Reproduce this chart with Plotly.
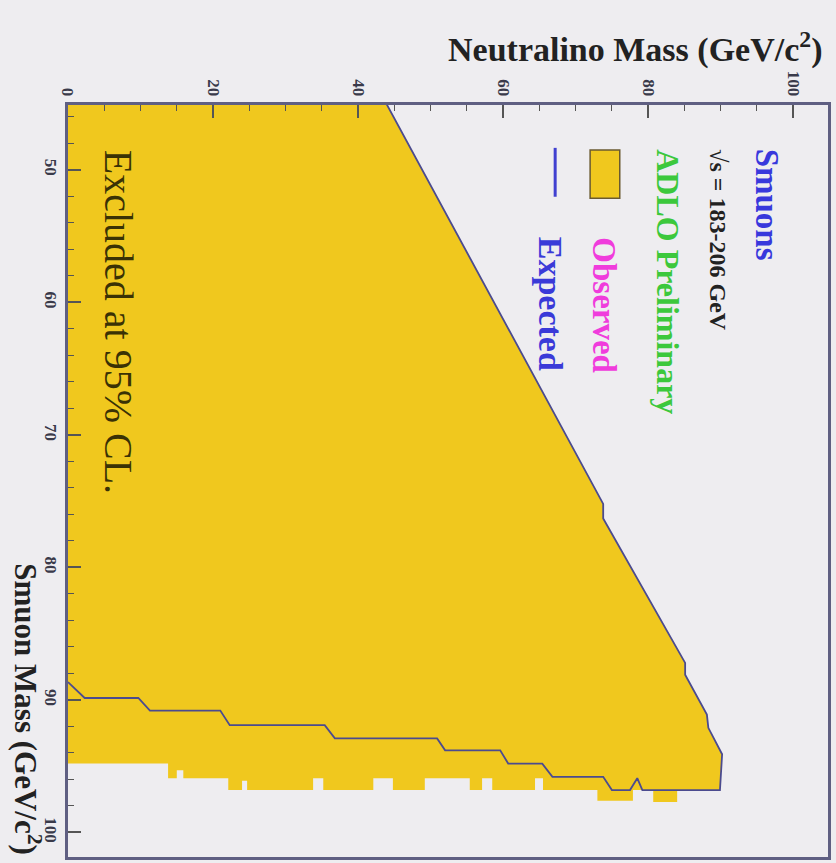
import plotly.graph_objects as go

# ---------------- data ----------------
# Kinematic (diagonal) edge of the excluded region, top -> lower-right corner
diag_smuon      = [45.0, 75.2, 76.3, 87.2, 88.1, 91.1, 92.1, 94.1]
diag_neutralino = [43.9, 73.8, 73.8, 85.1, 85.1, 88.1, 88.3, 90.2]

# Observed exclusion, lower edge as a step function:
# neutralino bin edges and the excluded smuon mass reached in each bin
obs_low_edges = [0, 13.8, 15.0, 15.9, 22.1, 24.0, 24.7, 33.8, 35.2, 42.1, 44.8,
                 49.2, 55.4, 57.1, 58.5, 64.4, 65.5, 73.0, 77.9, 80.7, 84.0, 89.9]
obs_low_smuon = [94.8, 95.9, 95.3, 95.9, 96.8, 96.1, 96.8, 95.9, 96.8, 95.9, 96.8,
                 95.9, 96.8, 95.9, 96.8, 95.9, 96.8, 97.6, 96.8, 97.7, 96.8]

# Expected limit, lower edge (from the right corner back to the left axis)
exp_low_neutralino = [89.9, 79.2, 78.5, 77.5, 75.0, 73.8, 66.8, 65.4, 60.7, 59.6,
                      52.0, 50.9, 36.8, 35.4, 22.3, 21.0, 11.3, 9.7, 2.3, 0.0]
exp_low_smuon      = [96.8, 96.8, 95.9, 96.8, 96.8, 95.8, 95.8, 94.8, 94.8, 93.8,
                      93.8, 92.9, 92.9, 91.9, 91.9, 90.8, 90.8, 89.85, 89.85, 88.65]

x_ticks = [0, 20, 40, 60, 80, 100]
y_ticks = [50, 60, 70, 80, 90, 100]

# ---------------- build shapes from the data ----------------
obs_x = [0.0] + diag_neutralino
obs_y = [diag_smuon[0]] + diag_smuon
for i in range(len(obs_low_smuon) - 1, -1, -1):
    obs_x += [obs_low_edges[i + 1], obs_low_edges[i]]
    obs_y += [obs_low_smuon[i], obs_low_smuon[i]]
obs_x.append(0.0)
obs_y.append(diag_smuon[0])

exp_x = diag_neutralino + exp_low_neutralino
exp_y = diag_smuon + exp_low_smuon

YEL = "#F0C81E"
LINE = "#4b4b8f"
BG = "#EEEDF0"
SERIF = "Liberation Serif, Times New Roman, serif"

fig = go.Figure()
fig.add_trace(go.Scatter(x=obs_x, y=obs_y, mode="lines", fill="toself",
                         fillcolor=YEL, line=dict(width=0, color=YEL),
                         hoverinfo="skip", showlegend=False))
fig.add_trace(go.Scatter(x=exp_x, y=exp_y, mode="lines",
                         line=dict(color=LINE, width=1.8),
                         hoverinfo="skip", showlegend=False))

axis_common = dict(showgrid=False, zeroline=False, showline=True, mirror=True,
                   linecolor="#5f5f82", linewidth=2.5, ticks="inside",
                   tickcolor="#555", tickwidth=1.5, ticklen=13, tickangle=90,
                   tickfont=dict(family=SERIF, size=17, color="#3a3a4a"),
                   automargin=False)

fig.update_layout(
    width=836, height=863,
    margin=dict(l=68, r=8, t=105, b=6),
    paper_bgcolor=BG, plot_bgcolor=BG,
    xaxis=dict(range=[0, 104.8], side="top", tickvals=x_ticks,
               ticktext=[f"<b>{v}</b>" for v in x_ticks],
               minor=dict(dtick=5, tick0=0, ticks="inside", ticklen=6,
                          tickcolor="#555", tickwidth=1.2),
               **axis_common),
    yaxis=dict(range=[101.85, 45.1], tickvals=y_ticks,
               ticktext=[f"<b>{v}</b>" for v in y_ticks],
               minor=dict(dtick=2, tick0=50, ticks="inside", ticklen=6,
                          tickcolor="#555", tickwidth=1.2),
               **axis_common),
)

ann = []
def txt(text, x, y, size, color, xanchor="center", yanchor="top", angle=90, bold=True):
    t = f"<b>{text}</b>" if bold else text
    ann.append(dict(text=t, x=x, y=y, xref="paper", yref="paper",
                    xanchor=xanchor, yanchor=yanchor, textangle=angle,
                    showarrow=False,
                    font=dict(family=SERIF, size=size, color=color)))

# Axis titles
txt("Neutralino Mass (GeV/c<sup>2</sup>)", 0.996, 1.077, 34, "#222",
    xanchor="right", yanchor="middle", angle=0)
txt("Smuon Mass (GeV/c<sup>2</sup>)", -0.053, 0.0, 31, "#222",
    xanchor="center", yanchor="bottom")

# In-plot labels
txt("Smuons", 0.919, 0.944, 33, "#3838dc")
txt("√s = 183-206 GeV", 0.855, 0.944, 24, "#222")
txt("ADLO Preliminary", 0.790, 0.944, 32, "#3cc83c")
txt("Observed", 0.705, 0.827, 33, "#f03cdc")
txt("Expected", 0.636, 0.827, 34, "#3a3ad8")
txt("Excluded at 95% CL.", 0.066, 0.943, 40, "#3a3205", bold=False)

fig.update_layout(annotations=ann)

# Legend symbols
fig.add_shape(type="rect", xref="paper", yref="paper",
              x0=0.687, x1=0.726, y0=0.876, y1=0.940,
              fillcolor=YEL, line=dict(color="#6a5a30", width=1.5))
fig.add_shape(type="line", xref="paper", yref="paper",
              x0=0.641, x1=0.641, y0=0.878, y1=0.943,
              line=dict(color="#4040d0", width=3))

fig.write_html("out.html",
               config={"displayModeBar": False},
               post_script="document.body.style.margin='0';"
                           "document.body.style.background='%s';"
                           "document.documentElement.style.background='%s';" % (BG, BG))
